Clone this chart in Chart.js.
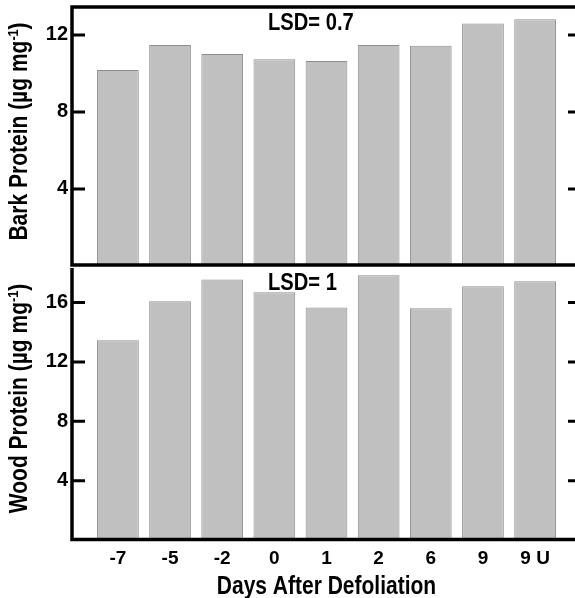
<!DOCTYPE html>
<html>
<head>
<meta charset="utf-8">
<script src="https://cdn.jsdelivr.net/npm/chart.js@4.4.1/dist/chart.umd.min.js"></script>
<style>
  html, body { margin: 0; padding: 0; background: #fff; overflow: hidden; width: 575px; height: 598px; }
  .panel { position: absolute; left: 0; width: 585px; }
  #topWrap { top: 0; height: 268px; }
  #botWrap { top: 260px; height: 338px; }
</style>
</head>
<body>
<div class="panel" id="topWrap"><canvas id="barkChart"></canvas></div>
<div class="panel" id="botWrap"><canvas id="woodChart"></canvas></div>
<script>
const FONT = "'Liberation Sans', Arial, sans-serif";
const NARROW = 0.84; // horizontal squeeze to mimic the condensed face

const days = ["-7", "-5", "-2", "0", "1", "2", "6", "9", "9 U"];
const barkProtein = [10.18, 11.48, 11.01, 10.74, 10.65, 11.48, 11.44, 12.59, 12.81];
const woodProtein = [13.47, 16.09, 17.55, 16.70, 15.67, 17.85, 15.62, 17.10, 17.44];
const barkLsd = "LSD= 0.7";
const woodLsd = "LSD= 1";
const barkTitle = "Bark Protein (µg mg";
const woodTitle = "Wood Protein (µg mg";
const xTitle = "Days After Defoliation";

function narrowText(ctx, text, x, y, font, align) {
  ctx.save();
  ctx.font = font;
  const w = ctx.measureText(text).width * NARROW;
  ctx.translate(align === "center" ? x - w / 2 : x, y);
  ctx.scale(NARROW, 1);
  ctx.textAlign = "left";
  ctx.fillText(text, 0, 0);
  ctx.restore();
}

// frame lines, inward ticks on both sides, rotated y title with superscript, LSD note
const panelDecor = {
  id: "panelDecor",
  afterDraw(chart, args, opts) {
    const { ctx, chartArea: a, width } = chart;
    const y = chart.scales.y;
    ctx.save();
    ctx.strokeStyle = "#000";
    ctx.fillStyle = "#000";
    ctx.lineWidth = 3.5;
    ctx.beginPath();
    if (opts.topLine) {
      ctx.moveTo(a.left - 1.75, a.top);
      ctx.lineTo(width, a.top);
    }
    const by = a.bottom + opts.bottomShift;
    ctx.moveTo(a.left, opts.topLine ? a.top : a.top + 1);
    ctx.lineTo(a.left, by);
    ctx.moveTo(a.left - 1.75, by);
    ctx.lineTo(width, by);
    ctx.stroke();

    ctx.lineWidth = 3;
    ctx.beginPath();
    y.ticks.forEach((t) => {
      if (t.value === 0) return;
      const py = y.getPixelForValue(t.value);
      ctx.moveTo(a.left, py);
      ctx.lineTo(a.left + 13, py);
      ctx.moveTo(a.right - 13, py);
      ctx.lineTo(a.right, py);
    });
    ctx.stroke();

    // y title, rotated, with superscript
    const cy = (a.top + a.bottom) / 2 - 5;
    const mainFont = `bold 25px ${FONT}`;
    const supFont = `bold 15px ${FONT}`;
    ctx.font = mainFont;
    const w1 = ctx.measureText(opts.title).width;
    const w3 = ctx.measureText(")").width;
    ctx.font = supFont;
    const w2 = ctx.measureText("-1").width;
    const total = w1 + w2 + w3;
    ctx.save();
    ctx.translate(27, cy);
    ctx.rotate(-Math.PI / 2);
    ctx.scale(NARROW, 1);
    ctx.textAlign = "left";
    ctx.textBaseline = "alphabetic";
    ctx.font = mainFont;
    ctx.fillText(opts.title, -total / 2, 0);
    ctx.font = supFont;
    ctx.fillText("-1", -total / 2 + w1, -9);
    ctx.font = mainFont;
    ctx.fillText(")", -total / 2 + w1 + w2, 0);
    ctx.restore();

    ctx.textBaseline = "alphabetic";
    narrowText(ctx, opts.lsd, a.left + 196, a.top + 23, `bold 24px ${FONT}`, "left");

    if (opts.xTitle) {
      ctx.textBaseline = "middle";
      narrowText(ctx, opts.xTitle, (a.left + a.right) / 2, chart.height - 11, `bold 25px ${FONT}`, "center");
    }
    ctx.restore();
  },
};

function buildConfig(values, yMax, opts) {
  return {
    type: "bar",
    data: {
      datasets: [{
        data: values.map((v, i) => ({ x: i, y: v })),
        backgroundColor: "#c0c0c0",
        borderColor: "#8e8e8e",
        borderWidth: 1,
        barPercentage: 0.8,
        categoryPercentage: 1.0,
      }],
    },
    options: {
      responsive: true,
      maintainAspectRatio: false,
      animation: false,
      layout: { padding: { top: 7, right: 4, bottom: opts.showX ? 0 : 2, left: 0 } },
      plugins: {
        legend: { display: false },
        tooltip: { enabled: false },
        panelDecor: {
          title: opts.title,
          lsd: opts.lsd,
          xTitle: opts.showX ? xTitle : null,
          topLine: !opts.showX,
          bottomShift: opts.showX ? -0.5 : -1,
        },
      },
      scales: {
        x: {
          type: "linear",
          offset: false,
          min: -0.88,
          max: 8.88,
          display: opts.showX,
          afterBuildTicks: (scale) => { scale.ticks = days.map((d, i) => ({ value: i })); },
          afterFit: (scale) => {
            scale.paddingLeft = 0;
            scale.paddingRight = 0;
            if (opts.showX) scale.height = 58;
          },
          grid: { display: false, drawTicks: false },
          border: { display: false },
          ticks: {
            padding: 7,
            color: "#000",
            font: { family: FONT, size: 19, weight: "bold" },
            callback: (v) => days[v] ?? "",
          },
        },
        y: {
          min: 0,
          max: yMax,
          afterFit: (scale) => {
            scale.width = 72;
            scale.paddingTop = 0;
            scale.paddingBottom = 0;
          },
          grid: { display: false, drawTicks: false },
          border: { display: false },
          ticks: {
            stepSize: 4,
            includeBounds: false,
            padding: 4,
            color: "#000",
            font: { family: FONT, size: 20, weight: "bold" },
            callback: (v) => (v === 0 ? "" : v),
          },
        },
      },
    },
    plugins: [panelDecor],
  };
}

new Chart(document.getElementById("barkChart"),
  buildConfig(barkProtein, 13.45, { title: barkTitle, lsd: barkLsd, showX: false }));
new Chart(document.getElementById("woodChart"),
  buildConfig(woodProtein, 18.4, { title: woodTitle, lsd: woodLsd, showX: true }));
</script>
</body>
</html>
